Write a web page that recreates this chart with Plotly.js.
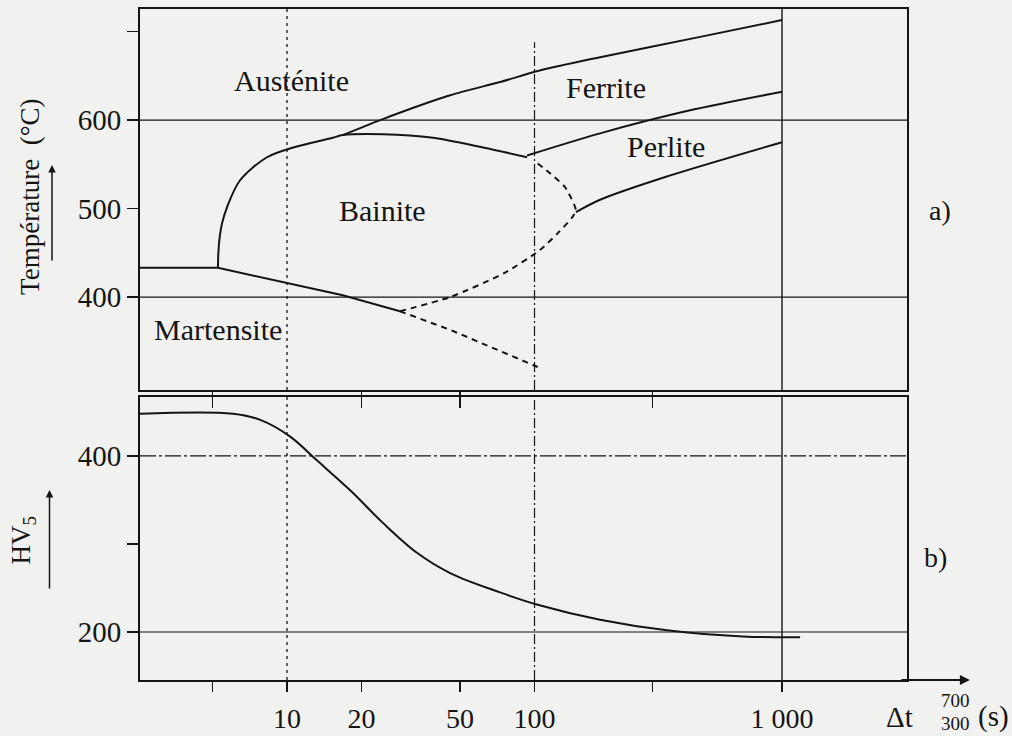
<!DOCTYPE html>
<html>
<head>
<meta charset="utf-8">
<script src="https://cdn.plot.ly/plotly-3.0.1.min.js"></script>
<style>html,body{margin:0;padding:0;background:#f1f1ef;}#chart{width:1012px;height:736px;}</style>
</head>
<body>
<div id="chart"></div>
<script>
// ---- data (cooling time Δt 700/300 in s, temperature in °C, hardness HV5) ----
const xTickVals = [5, 10, 20, 50, 100, 300, 1000];
const xTickText = ['', '10', '20', '50', '100', '', '1 000'];
const innerTickVals = [5, 20, 50, 300];
const tTickVals = [400, 500, 600, 700];
const tTickText = ['400', '500', '600', ''];
const hvTickVals = [200, 300, 400];
const hvTickText = ['200', '', '400'];

// Martensite start (Ms)
const msTime = [2.5, 5.26, 16.8, 28.6];
const msTemp = [433, 433, 402, 384];
// Bainite start
const bsTime = [5.26, 5.28, 5.34, 5.46, 5.73, 6.46, 8.3, 10.6, 15.3, 16.8, 24.4, 38.9, 61.9, 93.3];
const bsTemp = [433, 450, 467, 483, 502, 532, 558, 569, 580, 583, 584, 580, 569, 558];
// Ferrite start
const fsTime = [16.8, 23.8, 45.6, 72.6, 105, 184, 467, 1000];
const fsTemp = [583, 600, 628, 643, 656, 671, 694, 713];
// Perlite start (ferrite end)
const psTime = [93.3, 184, 425, 1000];
const psTemp = [560, 585, 611, 632];
// Perlite end
const peTime = [147, 184, 340, 1000];
const peTemp = [496, 510, 536, 575];
// Dashed boundaries
const dbTime = [103, 112, 133, 147, 142, 124, 105, 75.4, 45.6, 28.6];
const dbTemp = [551, 543, 524, 498, 490, 472, 453, 427, 400, 384];
const dmTime = [28.6, 45.6, 103];
const dmTemp = [384, 363, 321];
// Hardness HV5
const hvTime = [2.5, 6.05, 7.8, 10.3, 13.2, 18, 24.4, 33.5, 45.6, 72.6, 103, 184, 343, 695, 1183];
const hvVal = [448, 448, 441, 422, 395, 361, 324, 290, 267, 245, 231, 214, 202, 195, 194];

// reference lines
const tGrid = [400, 600];
const hvGridSolid = [200];
const hvGridDash = [400];

const xMin = Math.pow(10, 0.406), xMax = Math.pow(10, 3.505);
const tRange = [295, 725.5], hvRange = [145.5, 467];

const black = '#151515';
const traces = [];
function line(x, y, xa, ya, w, dash, smooth) {
  const ln = {color: black, width: w, dash: dash || 'solid'};
  if (smooth) { ln.shape = 'spline'; ln.smoothing = smooth; }
  traces.push({x: x, y: y, xaxis: xa, yaxis: ya, type: 'scatter', mode: 'lines',
    line: ln, hoverinfo: 'skip', showlegend: false});
}
// grid lines
tGrid.forEach(v => line([xMin, xMax], [v, v], 'x2', 'y', 1.2));
hvGridSolid.forEach(v => line([xMin, xMax], [v, v], 'x', 'y2', 1.2));
hvGridDash.forEach(v => line([xMin, xMax], [v, v], 'x', 'y2', 1.2, '16px,3px,3px,3px'));
// vertical lines
line([10, 10], tRange, 'x2', 'y', 1.3, '3px,4px');
line([10, 10], hvRange, 'x', 'y2', 1.3, '3px,4px');
line([100, 100], [tRange[0], 688], 'x2', 'y', 1.2, '10px,3px,2px,3px');
line([100, 100], hvRange, 'x', 'y2', 1.2, '10px,3px,2px,3px');
line([1000, 1000], tRange, 'x2', 'y', 1.4);
line([1000, 1000], hvRange, 'x', 'y2', 1.4);
// curves
line(msTime, msTemp, 'x2', 'y', 2);
line(bsTime, bsTemp, 'x2', 'y', 2, null, 0.9);
line(fsTime, fsTemp, 'x2', 'y', 2, null, 0.8);
line(psTime, psTemp, 'x2', 'y', 2, null, 0.8);
line(peTime, peTemp, 'x2', 'y', 2, null, 0.8);
line(dbTime, dbTemp, 'x2', 'y', 2, '6px,5px', 0.6);
line(dmTime, dmTemp, 'x2', 'y', 2, '6px,5px');
line(hvTime, hvVal, 'x', 'y2', 2, null, 1);

const font = 'Liberation Serif, Times New Roman, serif';
const lg = Math.log10;
function lab(text, x, y, size) {
  return {text: text, x: lg(x), y: y, xref: 'x2', yref: 'y', showarrow: false,
    xanchor: 'center', yanchor: 'middle',
    font: {family: font, size: size || 30, color: black}};
}
function plab(text, x, y, size, extra) {
  return Object.assign({text: text, x: x, y: y, xref: 'paper', yref: 'paper', showarrow: false,
    xanchor: 'center', yanchor: 'middle',
    font: {family: font, size: size || 28, color: black}}, extra || {});
}

const layout = {
  width: 1012, height: 736,
  margin: {l: 140, r: 105, t: 9, b: 56},
  paper_bgcolor: '#f1f1ef', plot_bgcolor: '#f1f1ef',
  showlegend: false,
  font: {family: font, size: 28, color: black},
  xaxis: {type: 'log', range: [0.406, 3.505], anchor: 'y2', domain: [0, 1],
    tickvals: xTickVals, ticktext: xTickText, ticks: 'outside', ticklen: 10, tickwidth: 1.5, tickcolor: black,
    showline: true, linewidth: 2, linecolor: black, mirror: true, showgrid: false, zeroline: false,
    tickfont: {family: font, size: 28, color: black}, ticklabelstandoff: 2},
  xaxis2: {type: 'log', range: [0.406, 3.505], anchor: 'y', matches: 'x', domain: [0, 1],
    tickvals: innerTickVals, ticks: 'outside', ticklen: 16, tickwidth: 1.5, tickcolor: black, showticklabels: false,
    showline: true, linewidth: 2, linecolor: black, mirror: true, showgrid: false, zeroline: false},
  yaxis: {range: tRange, domain: [0.4322, 1], anchor: 'x2',
    tickvals: tTickVals, ticktext: tTickText, ticks: 'outside', ticklen: 11, tickwidth: 1.5, tickcolor: black,
    showline: true, linewidth: 2, linecolor: black, mirror: true, showgrid: false, zeroline: false,
    tickfont: {family: font, size: 29, color: black}},
  yaxis2: {range: hvRange, domain: [0, 0.4218], anchor: 'x',
    tickvals: hvTickVals, ticktext: hvTickText, ticks: 'outside', ticklen: 11, tickwidth: 1.5, tickcolor: black,
    showline: true, linewidth: 2, linecolor: black, mirror: true, showgrid: false, zeroline: false,
    tickfont: {family: font, size: 29, color: black}},
  annotations: [
    lab('Austénite', 10.4, 645),
    lab('Ferrite', 194, 637),
    lab('Perlite', 340, 570),
    lab('Bainite', 24.4, 498),
    lab('Martensite', 5.26, 363),
    plab('a)', 1.043, 0.700, 28),
    plab('b)', 1.037, 0.183, 28),
    plab('Température  (°C)', -0.1434, 0.72, 27, {textangle: -90}),
    plab('HV<sub>5</sub>', -0.152, 0.2086, 27, {textangle: -90}),
    // arrows beside axis titles
    {x: -0.1147, y: 0.7675, xref: 'paper', yref: 'paper', ax: 0, ay: 97,
      text: '', showarrow: true, arrowhead: 2, arrowsize: 1, arrowwidth: 1.5, arrowcolor: black},
    {x: -0.118, y: 0.283, xref: 'paper', yref: 'paper', ax: 0, ay: 100,
      text: '', showarrow: true, arrowhead: 2, arrowsize: 1, arrowwidth: 1.5, arrowcolor: black},
    // x axis arrow
    {x: 1.082, y: 0, xref: 'paper', yref: 'paper', ax: -70, ay: 0,
      text: '', showarrow: true, arrowhead: 2, arrowsize: 1, arrowwidth: 2, arrowcolor: black},
    plab('Δt', 0.99, -0.055, 29),
    plab('700', 1.063, -0.031, 19),
    plab('300', 1.063, -0.065, 19),
    plab('(s)', 1.113, -0.055, 29)
  ]
};

Plotly.newPlot('chart', traces, layout, {staticPlot: true, displayModeBar: false});
</script>
</body>
</html>
